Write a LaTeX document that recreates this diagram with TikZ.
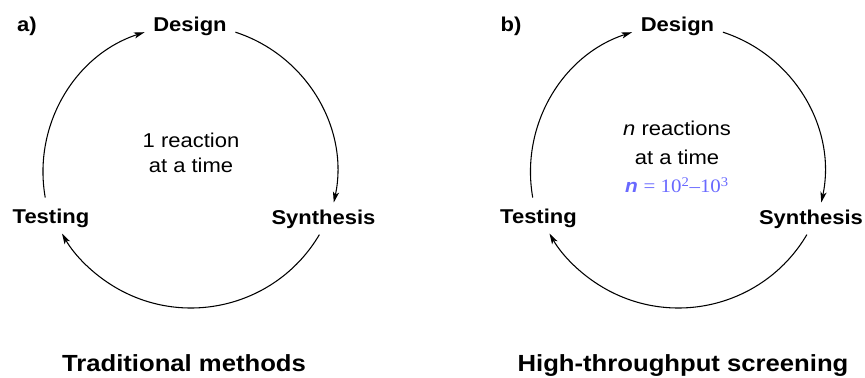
\documentclass[tikz,border=0pt]{standalone}
\usepackage{fontspec}
\setmainfont{Liberation Sans}
\newfontfamily\serifnum{Liberation Serif}
\usetikzlibrary{arrows.meta,calc}
\definecolor{countblue}{RGB}{105,105,255}
% slightly wide lettering used throughout the figure
\newcommand\widen[1]{\scalebox{1.1}[1]{#1}}
\begin{document}
\begin{tikzpicture}[x=0.75pt,y=0.75pt,
  lbl/.style={anchor=base, inner sep=0pt, font=\fontsize{15}{18}\selectfont\bfseries},
  body/.style={anchor=base, inner sep=0pt, font=\fontsize{15}{18}\selectfont},
  ttl/.style={anchor=base, inner sep=0pt, font=\fontsize{17.5}{21}\selectfont\bfseries},
  cyc/.style={line width=0.8pt, -{Stealth[length=8pt,width=4.6pt,inset=2pt]}}]
\useasboundingbox (0,0) rectangle (865,378);

% the two design-synthesis-testing cycles
\foreach \p/\dx in {a/0,b/487.5}{
  \coordinate (\p top) at (\dx+190,206);
  \coordinate (\p bot) at (\dx+191,219);
  \node[lbl] (\p D) at (\dx+190,346) {\widen{Design}};
  \node[lbl] (\p S) at (\dx+323.5,153.5) {\widen{Synthesis}};
  \node[lbl] (\p T) at (\dx+51,154) {\widen{Testing}};
  % Design -> Synthesis
  \draw[cyc] ($(\p top)+(72:147)$) arc[start angle=72,end angle=-12,radius=147];
  % Synthesis -> Testing
  \draw[cyc] ($(\p bot)+(-30.5:149)$) arc[start angle=-30.5,end angle=-150,radius=149];
  % Testing -> Design
  \draw[cyc] ($(\p top)+(190:147)$) arc[start angle=190,end angle=108,radius=147];
}

% panel letters
\node[lbl] (la) at (27,346) {\widen{a)}};
\node[lbl] (lb) at (511,346) {\widen{b)}};

% centre texts
\node[body] (aL1) at (191,230) {\widen{1 reaction}};
\node[body] (aL2) at (191,205) {\widen{at a time}};
\node[body] (bL1) at (677,242) {\widen{\textit{n} reactions}};
\node[body] (bL2) at (677,213) {\widen{at a time}};
\node[anchor=base, inner sep=0pt, text=countblue,
      font=\fontsize{14.25}{17}\selectfont] (bN) at (677,185)
  {\widen{{\bfseries\itshape n} {\serifnum = 10\textsuperscript{2}–10\textsuperscript{3}}}};

% titles
\node[ttl] (aTitle) at (184,6) {\widen{Traditional methods}};
\node[ttl] (bTitle) at (683,6) {\widen{High-throughput screening}};
\end{tikzpicture}
\end{document}
